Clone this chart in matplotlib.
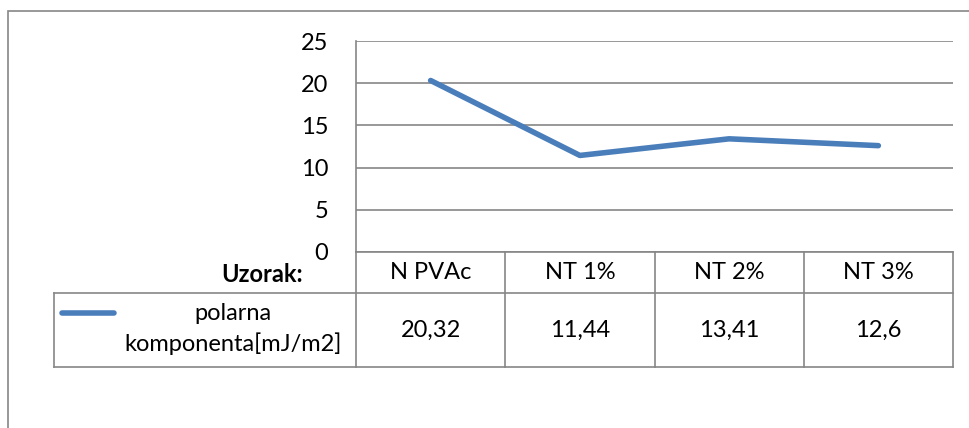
import matplotlib
matplotlib.use("Agg")
import matplotlib.pyplot as plt
from matplotlib.lines import Line2D
from matplotlib.patches import Rectangle

plt.rcParams["font.family"] = ["Lato", "DejaVu Sans"]

categories = ["N PVAc", "NT 1%", "NT 2%", "NT 3%"]
values = [20.32, 11.44, 13.41, 12.6]
value_labels = ["20,32", "11,44", "13,41", "12,6"]
series_name = "polarna\nkomponenta[mJ/m2]"
header_label = "Uzorak:"
yticks = [0, 5, 10, 15, 20, 25]

W, H = 969, 428
fig = plt.figure(figsize=(W / 100, H / 100), dpi=100)

grid_col = "#868686"
line_col = "#4A7EBB"
fs = 17


def fx(px):
    return px / W


def fy(py):
    return 1 - py / H


# outer chart border
fig.add_artist(Rectangle((fx(8), fy(440)), fx(975 - 8), fy(11) - fy(440),
                         transform=fig.transFigure, fill=False,
                         edgecolor=grid_col, lw=1.2))

left, right, top, bottom = 356, 953, 41, 252
ax = fig.add_axes([fx(left), fy(bottom), fx(right - left), fy(top) - fy(bottom)])
x = range(len(categories))
ax.plot(x, values, color=line_col, lw=4, solid_capstyle="round")
ax.set_xlim(-0.5, len(categories) - 0.5)
ax.set_ylim(0, 25)
ax.set_yticks(yticks)
ax.set_yticklabels([str(t) for t in yticks], fontsize=fs)
ax.set_xticks([])
ax.tick_params(axis="y", length=0, pad=20)
for s in ["top", "right", "bottom"]:
    ax.spines[s].set_visible(False)
ax.spines["left"].set_color(grid_col)
ax.spines["left"].set_linewidth(1.2)
ax.yaxis.grid(True, color=grid_col, lw=1.2)
ax.set_axisbelow(True)

# data table below the plot
ncol = len(categories)
col_w = (right - left) / ncol
row1, row2 = 293, 367
leg_left = 54


def hline(y, x0, x1):
    fig.add_artist(Line2D([fx(x0), fx(x1)], [fy(y), fy(y)], color=grid_col, lw=1.2))


def vline(xp, y0, y1):
    fig.add_artist(Line2D([fx(xp), fx(xp)], [fy(y0), fy(y1)], color=grid_col, lw=1.2))


hline(bottom, left, right)
hline(row1, leg_left, right)
hline(row2, leg_left, right)
vline(left, bottom, row2)
vline(leg_left, row1, row2)
for i in range(1, ncol + 1):
    vline(left + i * col_w, bottom, row2)

for i, (cat, lab) in enumerate(zip(categories, value_labels)):
    cx = left + (i + 0.5) * col_w
    fig.text(fx(cx), fy((bottom + row1) / 2), cat, ha="center", va="center", fontsize=fs)
    fig.text(fx(cx), fy((row1 + row2) / 2), lab, ha="center", va="center", fontsize=fs)

fig.text(fx(303), fy(275), header_label, ha="right", va="center",
         fontsize=fs, fontweight="bold")

fig.add_artist(Line2D([fx(62), fx(114)], [fy(313), fy(313)], color=line_col, lw=4,
                      solid_capstyle="round"))
fig.text(fx(233), fy(329), series_name, ha="center", va="center", fontsize=fs,
         linespacing=1.45)

fig.savefig("out.png", dpi=100)
